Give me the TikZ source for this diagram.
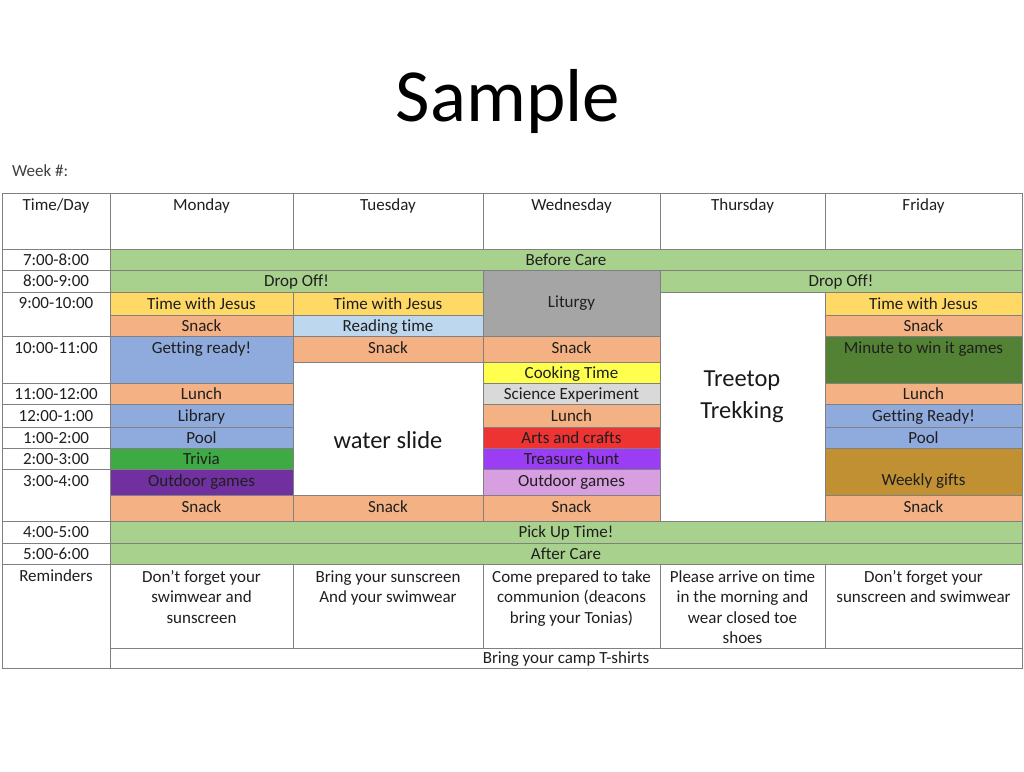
\documentclass[tikz,border=0pt]{standalone}
\usepackage{fontspec}
\setmainfont{Carlito}[Ligatures=NoCommon]
\definecolor{care}{HTML}{A9D18E}
\definecolor{jesus}{HTML}{FFD966}
\definecolor{snack}{HTML}{F4B183}
\definecolor{reading}{HTML}{BDD7EE}
\definecolor{ready}{HTML}{8FAADC}
\definecolor{liturgy}{HTML}{A5A5A5}
\definecolor{cooking}{HTML}{FFFF4D}
\definecolor{science}{HTML}{D9D9D9}
\definecolor{arts}{HTML}{EE3333}
\definecolor{treasure}{HTML}{9B3DF5}
\definecolor{lilac}{HTML}{D79FE0}
\definecolor{trivia}{HTML}{3DAA44}
\definecolor{outdoor}{HTML}{7030A0}
\definecolor{minute}{HTML}{548235}
\definecolor{gifts}{HTML}{C09033}
\begin{document}
\begin{tikzpicture}[x=1pt,y=-1pt,
  grid/.style={draw=black!50,line width=.7pt},
  slot/.style={font=\fontsize{17}{20.5}\selectfont,text=black!88,inner sep=0pt,anchor=mid,yshift=-3.5pt},
  big/.style={font=\fontsize{24.5}{32}\selectfont,text=black!90,inner sep=0pt,align=center}]
\useasboundingbox (0,0) rectangle (1024,771);
\node[font=\fontsize{75}{80}\selectfont,anchor=base,inner sep=0pt] (title) at (508,121) {Sample};
\node[slot,anchor=west,text=black!75] (week) at (12,167) {Week \#:};
\foreach \xa/\ya/\xb/\yb/\col/\ty/\txt [count=\i] in {
  2/193/110/249/white/205/{Time/Day}, 110/193/293/249/white/205/Monday,
  293/193/483/249/white/205/Tuesday, 483/193/660/249/white/205/Wednesday,
  660/193/825/249/white/205/Thursday, 825/193/1022/249/white/205/Friday,
  2/249/110/270/white/259.5/7:00-8:00, 2/270/110/292/white/281/8:00-9:00,
  2/292/110/336/white/303/9:00-10:00, 2/336/110/383/white/348/10:00-11:00,
  2/383/110/404/white/394/11:00-12:00, 2/404/110/427/white/416/12:00-1:00,
  2/427/110/448/white/437.5/1:00-2:00, 2/448/110/469/white/458.5/2:00-3:00,
  2/469/110/521/white/481/3:00-4:00, 2/521/110/543/white/532/4:00-5:00,
  2/543/110/564/white/553.5/5:00-6:00, 2/564/110/668/white/576/Reminders,
  110/249/1022/270/care/259.5/Before Care, 110/270/483/292/care/281/Drop Off!,
  660/270/1022/292/care/281/Drop Off!, 110/521/1022/543/care/532/Pick Up Time!,
  110/543/1022/564/care/553.5/After Care, 110/648/1022/668/white/658/Bring your camp T-shirts,
  110/292/293/315/jesus/303.5/Time with Jesus, 110/315/293/336/snack/325.5/Snack,
  110/336/293/383/ready/348/Getting ready!, 110/383/293/404/snack/394/Lunch,
  110/404/293/427/ready/416/Library, 110/427/293/448/ready/437.5/Pool,
  110/448/293/469/trivia/458.5/Trivia, 110/469/293/495/outdoor/481/Outdoor games,
  110/495/293/521/snack/507/Snack,
  293/292/483/315/jesus/303.5/Time with Jesus, 293/315/483/336/reading/325.5/Reading time,
  293/336/483/362/snack/348/Snack, 293/495/483/521/snack/507/Snack,
  483/270/660/336/liturgy/302/Liturgy, 483/336/660/362/snack/348/Snack,
  483/362/660/383/cooking/373/Cooking Time, 483/383/660/404/science/394/Science Experiment,
  483/404/660/427/snack/416/Lunch, 483/427/660/448/arts/437.5/Arts and crafts,
  483/448/660/469/treasure/458.5/Treasure hunt, 483/469/660/495/lilac/481/Outdoor games,
  483/495/660/521/snack/507/Snack,
  825/292/1022/315/jesus/303.5/Time with Jesus, 825/315/1022/336/snack/325.5/Snack,
  825/336/1022/383/minute/348/Minute to win it games, 825/383/1022/404/snack/394/Lunch,
  825/404/1022/427/ready/416/Getting Ready!, 825/427/1022/448/ready/437.5/Pool,
  825/448/1022/495/gifts/480/Weekly gifts, 825/495/1022/521/snack/507/Snack}{
  \path[grid,fill=\col] (\xa,\ya) rectangle (\xb,\yb);
  \node[slot] (cell\i) at ({(\xa+\xb)/2},\ty) {\txt};
}
\path[grid] (293,362) rectangle (483,495);
\node[big,anchor=mid] (slide) at (388,446) {water slide};
\path[grid] (660,292) rectangle (825,521);
\node[big] (trek) at (742,397) {Treetop\\Trekking};
\foreach \xa/\xb/\txt [count=\i] in {
  110/293/{Don’t forget your\\swimwear and\\sunscreen},
  293/483/{Bring your sunscreen\\And your swimwear},
  483/660/{Come prepared to take\\communion (deacons\\bring your Tonias)},
  660/825/{Please arrive on time\\in the morning and\\wear closed toe\\shoes},
  825/1022/{Don’t forget your\\sunscreen and swimwear}}{
  \path[grid] (\xa,564) rectangle (\xb,648);
  \node[slot,align=center,anchor=north,yshift=0pt] (note\i) at ({(\xa+\xb)/2},564.5) {\rule{0pt}{14pt}\txt};
}
\end{tikzpicture}
\end{document}
